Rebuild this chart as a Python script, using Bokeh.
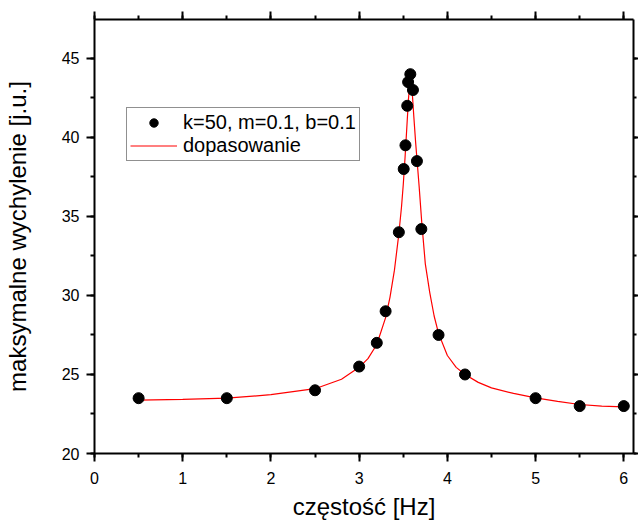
from bokeh.plotting import figure
from bokeh.models import LinearAxis, SingleIntervalTicker, Range1d, Legend, LegendItem, CustomJSTickFormatter
from bokeh.embed import file_html
from bokeh.resources import INLINE

# measured points
freq = [0.5, 1.5, 2.5, 3.0, 3.2, 3.3, 3.45, 3.505, 3.525, 3.545, 3.555, 3.58, 3.61, 3.655, 3.705, 3.9, 4.2, 5.0, 5.5, 6.0]
amp = [23.5, 23.5, 24.0, 25.5, 27.0, 29.0, 34.0, 38.0, 39.5, 42.0, 43.5, 44.0, 43.0, 38.5, 34.2, 27.5, 25.0, 23.5, 23.0, 23.0]

# fitted curve
fit_x = [0.5, 1.0, 1.5, 2.0, 2.5, 2.8, 3.0, 3.1, 3.2, 3.3, 3.35, 3.4, 3.45, 3.48, 3.5, 3.52, 3.54, 3.56, 3.583,
         3.6, 3.62, 3.64, 3.66, 3.68, 3.71, 3.75, 3.8, 3.85, 3.9, 4.0, 4.1, 4.2, 4.35, 4.5, 4.75, 5.0, 5.25, 5.5, 5.75, 6.0]
fit_y = [23.38, 23.42, 23.5, 23.72, 24.1, 24.7, 25.45, 26.0, 26.9, 28.6, 29.9, 31.6, 33.9, 35.6, 37.0, 38.7, 40.6, 42.5, 43.9,
         43.0, 41.3, 39.7, 38.3, 36.9, 34.6, 32.0, 30.2, 28.7, 27.6, 26.2, 25.45, 25.0, 24.5, 24.15, 23.8, 23.52, 23.3, 23.1, 23.0, 22.95]

series_label = "k=50, m=0.1, b=0.1"
fit_label = "dopasowanie"
x_title = "częstość [Hz]"
y_title = "maksymalne wychylenie [j.u.]"

FONT = "Liberation Sans"

p = figure(width=638, height=522, output_backend="svg", toolbar_location=None,
           x_range=Range1d(0, 6.11), y_range=Range1d(20, 47.46),
           x_axis_type=None, y_axis_type=None,
           min_border_left=94, min_border_right=5, min_border_top=19, min_border_bottom=68)
p.outline_line_color = None
p.xgrid.visible = False
p.ygrid.visible = False
p.background_fill_color = "white"
p.border_fill_color = "white"


def style(ax, labels=True):
    ax.axis_line_width = 2
    ax.axis_line_color = "black"
    ax.major_tick_line_width = 2
    ax.minor_tick_line_width = 2
    ax.major_tick_line_color = "black"
    ax.minor_tick_line_color = "black"
    ax.major_tick_in = 0
    ax.minor_tick_in = 0
    ax.major_tick_out = 8
    ax.minor_tick_out = 4
    ax.major_label_text_font = FONT
    ax.major_label_text_color = "black"
    ax.axis_label_text_font = FONT
    ax.axis_label_text_font_style = "normal"
    ax.axis_label_text_color = "black"
    ax.axis_label_text_font_size = "24px"
    if labels:
        ax.major_label_text_font_size = "16px"
    else:
        ax.major_label_text_font_size = "0px"
        ax.major_label_standoff = 0
        ax.formatter = CustomJSTickFormatter(code="return ''")


xb = LinearAxis(ticker=SingleIntervalTicker(interval=1, num_minor_ticks=2), axis_label=x_title)
style(xb)
xb.major_label_standoff = 10
xb.axis_label_standoff = 6
p.add_layout(xb, "below")

xt = LinearAxis(ticker=SingleIntervalTicker(interval=1, num_minor_ticks=2))
style(xt, labels=False)
p.add_layout(xt, "above")

yl = LinearAxis(ticker=SingleIntervalTicker(interval=5, num_minor_ticks=2), axis_label=y_title)
style(yl)
yl.major_label_standoff = 7
yl.axis_label_standoff = 28
p.add_layout(yl, "left")

yr = LinearAxis(ticker=SingleIntervalTicker(interval=5, num_minor_ticks=2))
style(yr, labels=False)
yr.major_tick_out = 5
yr.minor_tick_out = 3
p.add_layout(yr, "right")

fit_r = p.line(fit_x, fit_y, line_color="#ff0000", line_width=1.2)
pts_r = p.scatter(freq, amp, size=11, fill_color="black", line_color="black")

legend = Legend(items=[LegendItem(label=series_label, renderers=[pts_r]),
                       LegendItem(label=fit_label, renderers=[fit_r])],
                location=(32, 292), orientation="vertical")
legend.label_text_font = FONT
legend.label_text_font_size = "20px"
legend.label_text_color = "black"
legend.glyph_width = 47
legend.glyph_height = 21
legend.label_height = 21
legend.label_standoff = 6
legend.spacing = 0
legend.padding = 3
legend.margin = 0
legend.border_line_color = "#222222"
legend.border_line_width = 1.5
legend.background_fill_alpha = 1
p.add_layout(legend, "center")

open("out.html", "w").write(file_html(p, INLINE))
